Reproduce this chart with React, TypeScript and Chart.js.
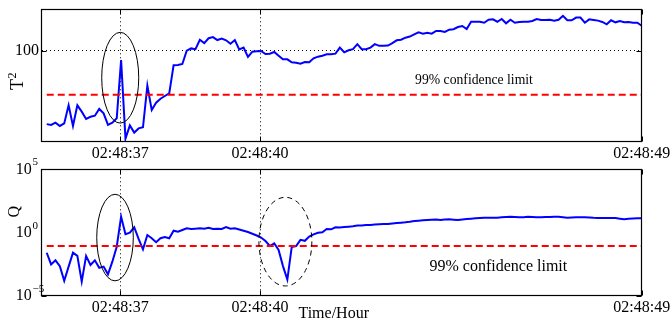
import React, { useEffect, useRef } from 'react';
import { Chart, registerables } from 'chart.js';

Chart.register(...registerables);

const FONT = '"Liberation Serif", "Times New Roman", serif';

// sample number of each observation (x position)
const sampleIndex: number[] = Array.from({ length: 137 }, (_, i) => i);

// time axis ticks
const timeTickPositions = [16.8, 48.75, 136];
const timeTickLabels = ['02:48:37', '02:48:40', '02:48:49'];

// T^2 statistic
const t2Values = [
  15.6, 15.3, 16.2, 14.9, 15.9, 25.1, 14.9, 25.1, 21.4, 17.8,
  18.8, 19.3, 22.9, 20.5, 15.3, 16.2, 18.1, 79.0, 10.8, 15.1,
  12.6, 14.0, 14.4, 41.3, 22.3, 26.8, 29.7, 31.8, 34.0, 69.1,
  69.6, 71.4, 100, 106, 104, 132, 121, 137, 141, 131,
  136, 130, 119, 131, 103, 108, 85.3, 97.5, 98.5, 99.2,
  92, 92.7, 96.8, 88.1, 80.4, 80.4, 74.6, 73.8, 72, 75.1,
  74.6, 82.5, 86, 88.1, 91.3, 91.3, 92.7, 108, 96, 101,
  104, 118, 104, 104, 108, 118, 113, 113, 114, 121,
  130, 132, 139, 143, 151, 159, 154, 157, 154, 165,
  165, 161, 170, 172, 182, 187, 173, 208, 208, 208,
  203, 219, 221, 208, 223, 200, 219, 203, 207, 208,
  208, 212, 223, 218, 218, 219, 214, 219, 242, 216,
  216, 231, 231, 203, 221, 218, 214, 207, 195, 216,
  205, 212, 205, 207, 203, 203, 188,
];
const t2Limit = 32.9;
const t2TickValues = [100];
const t2TickLabels = ['100'];

// Q statistic
const qValues = [
  2.5e-2, 3.0e-3, 6.3e-3, 2.2e-3, 1.5e-4, 2.0e-3, 2.5e-2, 1.4e-2, 1.3e-4, 1.4e-2,
  2.7e-3, 6.3e-3, 1.6e-3, 2.0e-3, 4.9e-4, 4.9e-3, 7.5e-2, 17.8, 0.72, 0.96,
  2.6, 0.31, 4.7e-2, 0.63, 0.35, 0.17, 0.35, 0.44, 0.35, 1.39,
  1.16, 1.58, 2.15, 1.89, 2.0, 2.15, 2.0, 2.4, 1.89, 2.0,
  1.89, 2.7, 2.0, 2.15, 1.73, 1.39, 1.1, 0.80, 0.58, 0.40,
  0.21, 0.085, 0.14, 0.041, 2.2e-3, 1.9e-4, 0.071, 0.085, 0.26, 0.22,
  0.47, 0.72, 0.96, 1.04, 1.89, 1.79, 2.6, 2.5, 2.7, 2.9,
  3.1, 3.6, 3.6, 3.9, 3.9, 4.3, 4.5, 4.7, 4.7, 5.2,
  5.6, 6.0, 6.4, 7.1, 8.1, 8.6, 9.2, 9.7, 10.3, 10.7,
  9.7, 10.7, 11.1, 10.3, 9.7, 10.7, 11.7, 12.4, 13.3, 14.0,
  14.8, 14.8, 14.8, 14.8, 16.0, 16.8, 17.8, 17.2, 16.3, 16.0,
  17.4, 17.2, 16.3, 16.0, 16.5, 16.8, 17.4, 17.8, 16.3, 14.8,
  15.3, 16.0, 16.0, 16.0, 15.3, 14.5, 14.0, 14.0, 14.0, 14.0,
  14.0, 12.4, 11.1, 12.2, 12.8, 13.3, 13.3,
];
const qLimit = 0.085;
const qTickValues = [1e-5, 1, 1e5];
const qTickExponents = ['\u22125', '0', '5'];

const limitText = '99% confidence limit';

const framePlugin = {
  id: 'frame',
  afterDraw(chart: any, _args: any, opts: any) {
    const { ctx, chartArea: a } = chart;
    const xs = chart.scales.x;
    const ys = chart.scales.y;
    ctx.save();
    ctx.strokeStyle = '#000';
    ctx.fillStyle = '#000';
    for (const e of opts.ellipses || []) {
      const x1 = xs.getPixelForValue(e.x[0]);
      const x2 = xs.getPixelForValue(e.x[1]);
      const y1 = ys.getPixelForValue(e.y[0]);
      const y2 = ys.getPixelForValue(e.y[1]);
      ctx.beginPath();
      ctx.setLineDash(e.dashed ? [5, 4] : []);
      ctx.lineWidth = 1;
      ctx.ellipse((x1 + x2) / 2, (y1 + y2) / 2, Math.abs(x2 - x1) / 2, Math.abs(y2 - y1) / 2, 0, 0, Math.PI * 2);
      ctx.stroke();
    }
    ctx.setLineDash([]);
    const L = Math.floor(a.left) + 0.5;
    const R = Math.floor(a.right) + 0.5;
    const T = Math.floor(a.top) + 0.5;
    const B = Math.floor(a.bottom) + 0.5;
    ctx.lineWidth = 1.2;
    ctx.strokeRect(L, T, R - L, B - T);
    const TL = 5;
    ctx.lineWidth = 1;
    ctx.beginPath();
    for (const t of xs.ticks) {
      const px = Math.round(xs.getPixelForValue(t.value)) + 0.5;
      ctx.moveTo(px, B); ctx.lineTo(px, B - TL);
      ctx.moveTo(px, T); ctx.lineTo(px, T + TL);
    }
    for (const t of ys.ticks) {
      const py = Math.round(ys.getPixelForValue(t.value)) + 0.5;
      ctx.moveTo(L, py); ctx.lineTo(L + TL, py);
      ctx.moveTo(R, py); ctx.lineTo(R - TL, py);
    }
    ctx.stroke();

    ctx.textBaseline = 'alphabetic';
    for (const n of opts.notes || []) {
      ctx.font = `${n.size}px ${FONT}`;
      ctx.textAlign = 'left';
      ctx.fillText(n.text, xs.getPixelForValue(n.x), ys.getPixelForValue(n.y));
    }
    if (opts.logLabels) {
      const { values, exps } = opts.logLabels;
      values.forEach((v: number, i: number) => {
        const py = ys.getPixelForValue(v);
        ctx.font = `16px ${FONT}`;
        ctx.textAlign = 'right';
        ctx.fillText('10', a.left - 10, py + 4.5);
        ctx.font = `11px ${FONT}`;
        ctx.textAlign = 'left';
        ctx.fillText(exps[i], a.left - 9.2, py - 4);
      });
    }
    if (opts.yTitle) {
      const t = opts.yTitle;
      ctx.save();
      ctx.translate(t.x, t.y);
      ctx.rotate(-Math.PI / 2);
      ctx.font = `${t.size}px ${FONT}`;
      ctx.textAlign = 'left';
      ctx.fillText(t.text, 0, 0);
      if (t.sup) {
        const w = ctx.measureText(t.text).width;
        ctx.font = `${t.supSize}px ${FONT}`;
        ctx.fillText(t.sup, w + 0.5, -t.supRise);
      }
      ctx.restore();
    }
    if (opts.xTitle) {
      const t = opts.xTitle;
      ctx.font = `${t.size}px ${FONT}`;
      ctx.textAlign = 'center';
      ctx.fillText(t.text, t.x, t.y);
    }
    ctx.restore();
  },
};

function makeConfig(kind: 'top' | 'bottom'): any {
  const isTop = kind === 'top';
  const values = isTop ? t2Values : qValues;
  const limit = isTop ? t2Limit : qLimit;
  const xAxisHeight = 20;
  return {
    type: 'line',
    data: {
      datasets: [
        {
          data: [
            { x: sampleIndex[0], y: limit },
            { x: sampleIndex[sampleIndex.length - 1], y: limit },
          ],
          borderColor: '#ff0000',
          borderWidth: 2,
          borderDash: [7, 4],
          pointRadius: 0,
          order: 0,
        },
        {
          data: sampleIndex.map((x, i) => ({ x, y: values[i] })),
          borderColor: '#0000ff',
          borderWidth: 2,
          pointRadius: 0,
          tension: 0,
          order: 1,
        },
      ],
    },
    options: {
      animation: false,
      responsive: false,
      devicePixelRatio: 1,
      events: [],
      layout: {
        padding: isTop
          ? { left: 0, right: 29.3, top: 9.3, bottom: 323 - 141.7 - xAxisHeight }
          : { left: 0, right: 29.3, top: 169.3, bottom: 323 - 295.7 - xAxisHeight },
      },
      plugins: {
        legend: { display: false },
        tooltip: { enabled: false },
        frame: isTop
          ? {
              ellipses: [{ x: [12.57, 21.03], y: [16, 159], dashed: false }],
              notes: [{ text: limitText, x: 84.2, y: 43, size: 13.7 }],
              yTitle: { text: 'T', sup: '2', x: 23, y: 90, size: 18, supSize: 12, supRise: 7 },
            }
          : {
              ellipses: [
                { x: [11.43, 19.79], y: [1.5e-4, 1050], dashed: false },
                { x: [48.5, 60.6], y: [5.9e-5, 610], dashed: true },
              ],
              notes: [{ text: limitText, x: 87.5, y: 9e-4, size: 16 }],
              logLabels: { values: qTickValues, exps: qTickExponents },
              yTitle: { text: 'Q', x: 19, y: 217.5, size: 16 },
              xTitle: { text: 'Time/Hour', x: 333.7, y: 318, size: 16 },
            },
      },
      scales: {
        x: {
          type: 'linear',
          min: -1.15,
          max: 136,
          afterBuildTicks: (s: any) => {
            s.ticks = timeTickPositions.map((v) => ({ value: v }));
          },
          afterFit: (s: any) => {
            s.height = xAxisHeight;
            s.paddingLeft = 0;
            s.paddingRight = 0;
          },
          ticks: {
            autoSkip: false,
            maxRotation: 0,
            padding: 2,
            color: '#000',
            font: { family: FONT, size: 16 },
            callback: (_v: any, i: number) => timeTickLabels[i],
          },
          grid: { display: true, color: '#000', lineWidth: 1, drawTicks: false },
          border: { display: false, dash: [1, 3] },
        },
        y: {
          type: 'logarithmic',
          min: isTop ? 10 : 1e-5,
          max: isTop ? 285 : 1e5,
          afterBuildTicks: (s: any) => {
            s.ticks = (isTop ? t2TickValues : qTickValues).map((v) => ({ value: v }));
          },
          afterFit: (s: any) => {
            s.width = 41.7;
            s.paddingTop = 0;
            s.paddingBottom = 0;
          },
          ticks: {
            display: isTop,
            padding: 2.7,
            color: '#000',
            font: { family: FONT, size: 16 },
            callback: (_v: any, i: number) => t2TickLabels[i],
          },
          grid: { display: true, color: '#000', lineWidth: 1, drawTicks: false },
          border: { display: false, dash: [1, 3] },
        },
      },
    },
    plugins: [framePlugin],
  };
}

export default function App() {
  const topRef = useRef<HTMLCanvasElement>(null);
  const bottomRef = useRef<HTMLCanvasElement>(null);
  useEffect(() => {
    const c1 = new Chart(topRef.current as HTMLCanvasElement, makeConfig('top'));
    const c2 = new Chart(bottomRef.current as HTMLCanvasElement, makeConfig('bottom'));
    return () => {
      c1.destroy();
      c2.destroy();
    };
  }, []);
  const canvasStyle: React.CSSProperties = { position: 'absolute', left: 0, top: 0, width: 671, height: 323 };
  return (
    <div style={{ position: 'fixed', left: 0, top: 0, width: 671, height: 323, background: '#fff', overflow: 'hidden' }}>
      <canvas ref={topRef} width={671} height={323} style={canvasStyle} />
      <canvas ref={bottomRef} width={671} height={323} style={canvasStyle} />
    </div>
  );
}
